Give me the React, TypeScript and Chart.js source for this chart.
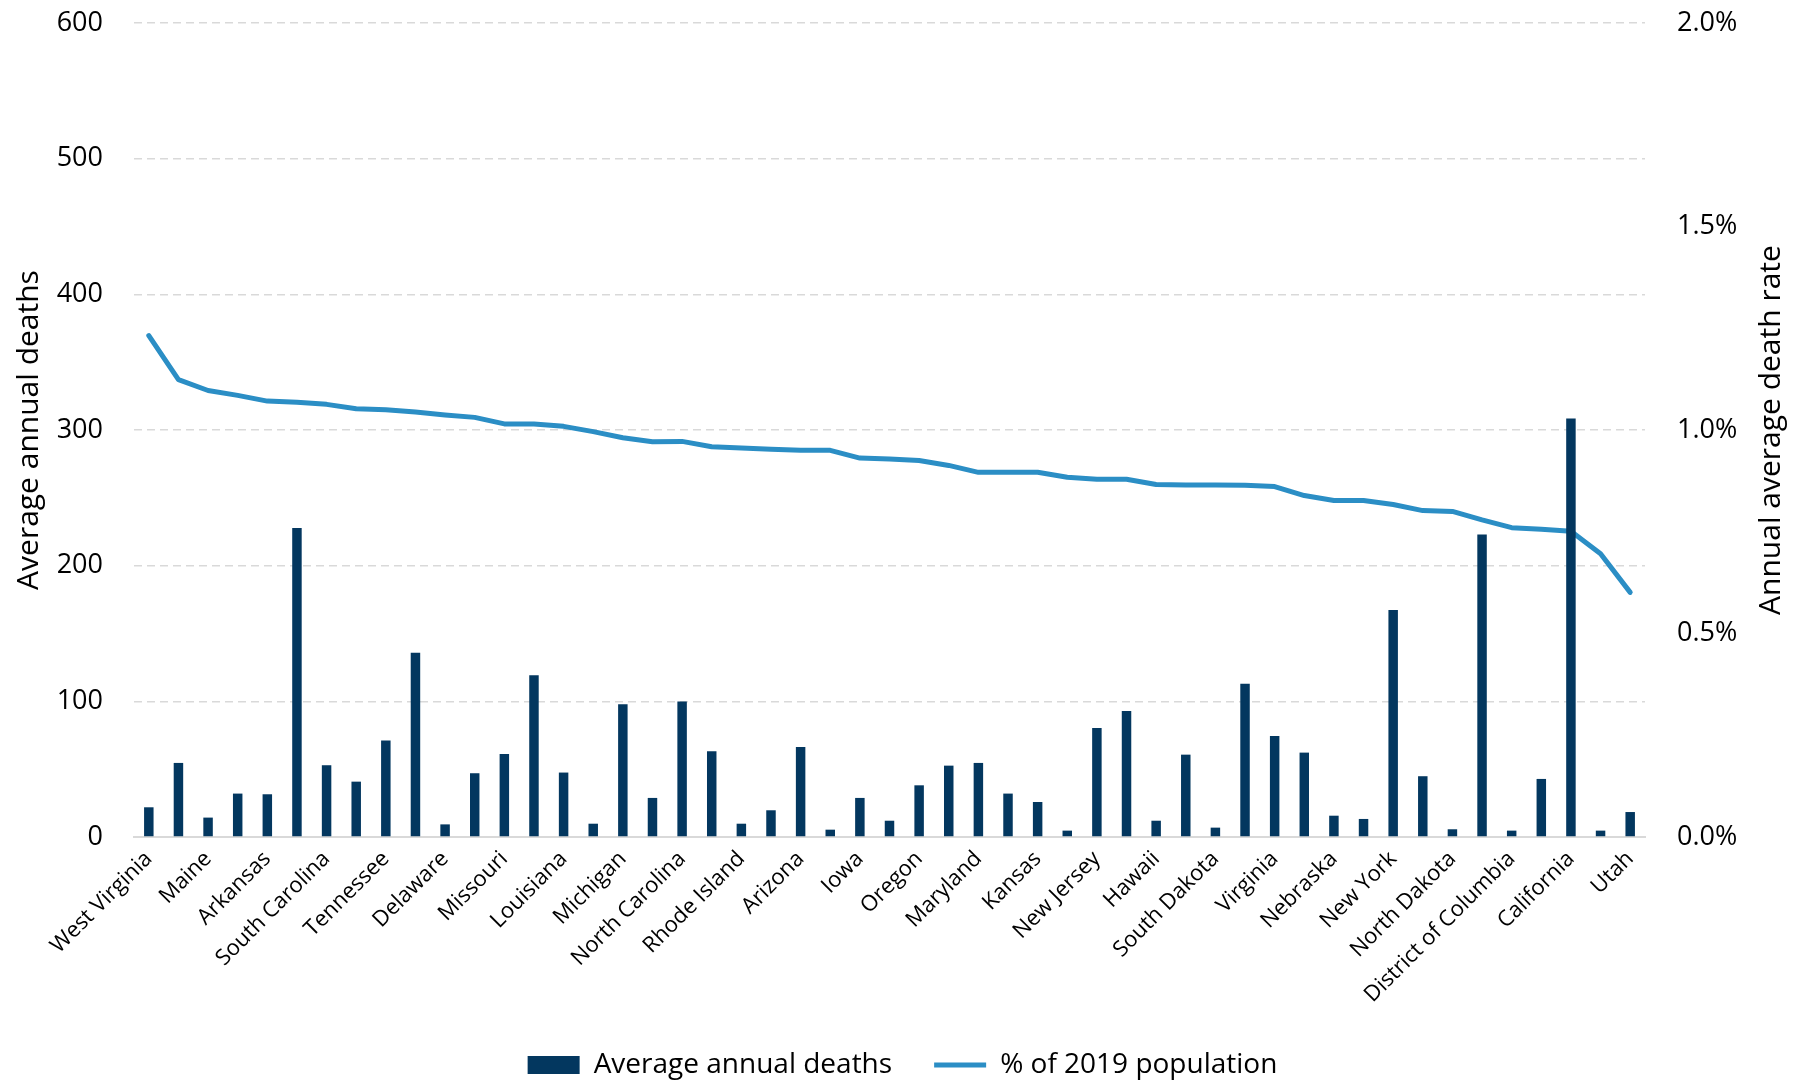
import React, { useEffect, useRef } from "react";
import { Chart, registerables } from "chart.js";

Chart.register(...registerables);

// States ordered by annual average death rate (highest first)
const states: string[] = [
  "West Virginia", "Alabama", "Maine", "Mississippi", "Arkansas", "Florida",
  "South Carolina", "Oklahoma", "Tennessee", "Pennsylvania", "Delaware", "Kentucky",
  "Missouri", "Ohio", "Louisiana", "Montana", "Michigan", "Nevada",
  "North Carolina", "Indiana", "Rhode Island", "New Mexico", "Arizona", "Vermont",
  "Iowa", "New Hampshire", "Oregon", "Wisconsin", "Maryland", "Connecticut",
  "Kansas", "Wyoming", "New Jersey", "Georgia", "Hawaii", "Massachusetts",
  "South Dakota", "Illinois", "Virginia", "Washington", "Nebraska", "Idaho",
  "New York", "Minnesota", "North Dakota", "Texas", "District of Columbia", "Colorado",
  "California", "Alaska", "Utah",
];

// Average annual deaths (thousands)
const averageAnnualDeaths: number[] = [
  21.9, 54.6, 14.3, 32.0, 31.5, 227.8,
  52.9, 40.8, 71.1, 135.9, 9.3, 47.0,
  61.2, 119.3, 47.5, 9.8, 97.9, 28.8,
  99.8, 63.2, 9.8, 19.7, 66.4, 5.4,
  28.8, 12.0, 38.1, 52.6, 54.6, 32.0,
  25.8, 4.7, 80.4, 92.9, 12.0, 60.7,
  6.9, 112.9, 74.5, 62.2, 15.7, 13.3,
  167.3, 44.8, 5.7, 222.9, 4.7, 42.8,
  308.4, 4.7, 18.4,
];

// Annual average death rate, % of 2019 population
const pctOf2019Population: number[] = [
  1.232, 1.124, 1.097, 1.085, 1.071, 1.068,
  1.063, 1.052, 1.050, 1.044, 1.037, 1.031,
  1.015, 1.015, 1.009, 0.996, 0.981, 0.971,
  0.972, 0.959, 0.956, 0.953, 0.950, 0.950,
  0.931, 0.929, 0.925, 0.913, 0.896, 0.896,
  0.896, 0.884, 0.879, 0.879, 0.866, 0.865,
  0.865, 0.864, 0.861, 0.839, 0.827, 0.827,
  0.817, 0.802, 0.800, 0.779, 0.760, 0.756,
  0.751, 0.696, 0.601,
];

const leftAxisTicks: number[] = [0, 100, 200, 300, 400, 500, 600];
const rightAxisTicks: string[] = ["0.0%", "0.5%", "1.0%", "1.5%", "2.0%"];

const barLabel = "Average annual deaths";
const lineLabel = "% of 2019 population";
const leftAxisTitle = "Average annual deaths";
const rightAxisTitle = "Annual average death rate";

const FONT = '"Open Sans", "DejaVu Sans", sans-serif';
const BAR_COLOR = "#03375f";
const LINE_COLOR = "#2b8ec5";
const GRID_COLOR = "#d9d9d9";
const CLEAR = "rgba(0,0,0,0)";

// Title for the right-hand axis, reading bottom to top
const rightTitlePlugin = {
  id: "rightTitle",
  afterDraw(chart: any) {
    const s = chart.scales.y1;
    const { ctx, chartArea } = chart;
    ctx.save();
    ctx.translate(s.right - 34, (chartArea.top + chartArea.bottom) / 2);
    ctx.rotate(-Math.PI / 2);
    ctx.font = `30px ${FONT}`;
    ctx.fillStyle = "#000";
    ctx.textAlign = "center";
    ctx.textBaseline = "middle";
    ctx.fillText(rightAxisTitle, 0, 0);
    ctx.restore();
  },
};

export default function App() {
  const canvasRef = useRef<HTMLCanvasElement | null>(null);

  useEffect(() => {
    let chart: Chart | null = null;
    let cancelled = false;

    const build = () => {
      if (cancelled || !canvasRef.current) return;
      chart = new Chart(canvasRef.current, {
        type: "bar",
        data: {
          labels: states,
          datasets: [
            {
              type: "bar",
              label: barLabel,
              data: averageAnnualDeaths,
              backgroundColor: BAR_COLOR,
              borderWidth: 0,
              barPercentage: 0.32,
              categoryPercentage: 1,
              yAxisID: "y",
              pointStyle: "rect",
            } as any,
            {
              type: "line",
              label: lineLabel,
              data: pctOf2019Population,
              borderColor: LINE_COLOR,
              backgroundColor: LINE_COLOR,
              borderWidth: 5,
              borderCapStyle: "round",
              borderJoinStyle: "round",
              pointRadius: 0,
              pointHoverRadius: 0,
              tension: 0,
              fill: false,
              yAxisID: "y1",
              pointStyle: "line",
            } as any,
          ],
        },
        options: {
          responsive: false,
          animation: false,
          devicePixelRatio: 1,
          layout: { padding: { top: 23, bottom: -9, left: 0, right: 0 } },
          plugins: {
            tooltip: { enabled: false },
            legend: {
              position: "bottom",
              labels: {
                usePointStyle: true,
                pointStyleWidth: 52,
                boxHeight: 18,
                padding: 42,
                color: "#000",
                font: { family: FONT, size: 28 },
              },
            },
          },
          scales: {
            x: {
              grid: { display: false, drawTicks: false },
              border: { display: true, color: GRID_COLOR, width: 2 },
              ticks: {
                autoSkip: false,
                maxRotation: 45,
                minRotation: 45,
                padding: 9,
                color: "#000",
                font: { family: FONT, size: 22 },
                callback: (_v: any, i: number) => (i % 2 === 0 ? states[i] : ""),
              },
              afterFit: (s: any) => {
                s.height = 172;
              },
            },
            y: {
              position: "left",
              min: leftAxisTicks[0],
              max: leftAxisTicks[leftAxisTicks.length - 1],
              afterBuildTicks: (s: any) => {
                s.ticks = leftAxisTicks.map((v) => ({ value: v }));
              },
              ticks: {
                padding: 3,
                color: "#000",
                font: { family: FONT, size: 27 },
              },
              grid: {
                drawTicks: true,
                tickLength: 28,
                tickColor: CLEAR,
                lineWidth: 1.5,
                color: (c: any) => (c.tick && c.tick.value === 0 ? CLEAR : GRID_COLOR),
              },
              border: { display: false, dash: [8, 5] },
              title: {
                display: true,
                text: leftAxisTitle,
                color: "#000",
                font: { family: FONT, size: 30 },
                padding: { top: 11, bottom: 0 },
              },
              afterFit: (s: any) => {
                s.width = 134;
              },
            },
            y1: {
              position: "right",
              min: 0,
              max: 2,
              afterBuildTicks: (s: any) => {
                s.ticks = rightAxisTicks.map((t) => ({ value: parseFloat(t) }));
              },
              ticks: {
                padding: 3,
                color: "#000",
                font: { family: FONT, size: 27 },
                callback: (_v: any, i: number) => rightAxisTicks[i],
              },
              grid: {
                display: true,
                drawOnChartArea: false,
                drawTicks: true,
                tickLength: 29,
                tickColor: CLEAR,
                color: CLEAR,
              },
              border: { display: false },
              afterFit: (s: any) => {
                s.width = 160;
              },
            },
          },
        },
        plugins: [rightTitlePlugin],
      });
    };

    if ((document as any).fonts && (document as any).fonts.load) {
      (document as any).fonts.load(`27px ${FONT}`).then(build, build);
    } else {
      build();
    }

    return () => {
      cancelled = true;
      if (chart) chart.destroy();
    };
  }, []);

  return (
    <div style={{ position: "fixed", left: 0, top: 0, width: 1805, height: 1080, background: "#fff" }}>
      <canvas ref={canvasRef} width={1805} height={1080} style={{ display: "block" }} />
    </div>
  );
}
